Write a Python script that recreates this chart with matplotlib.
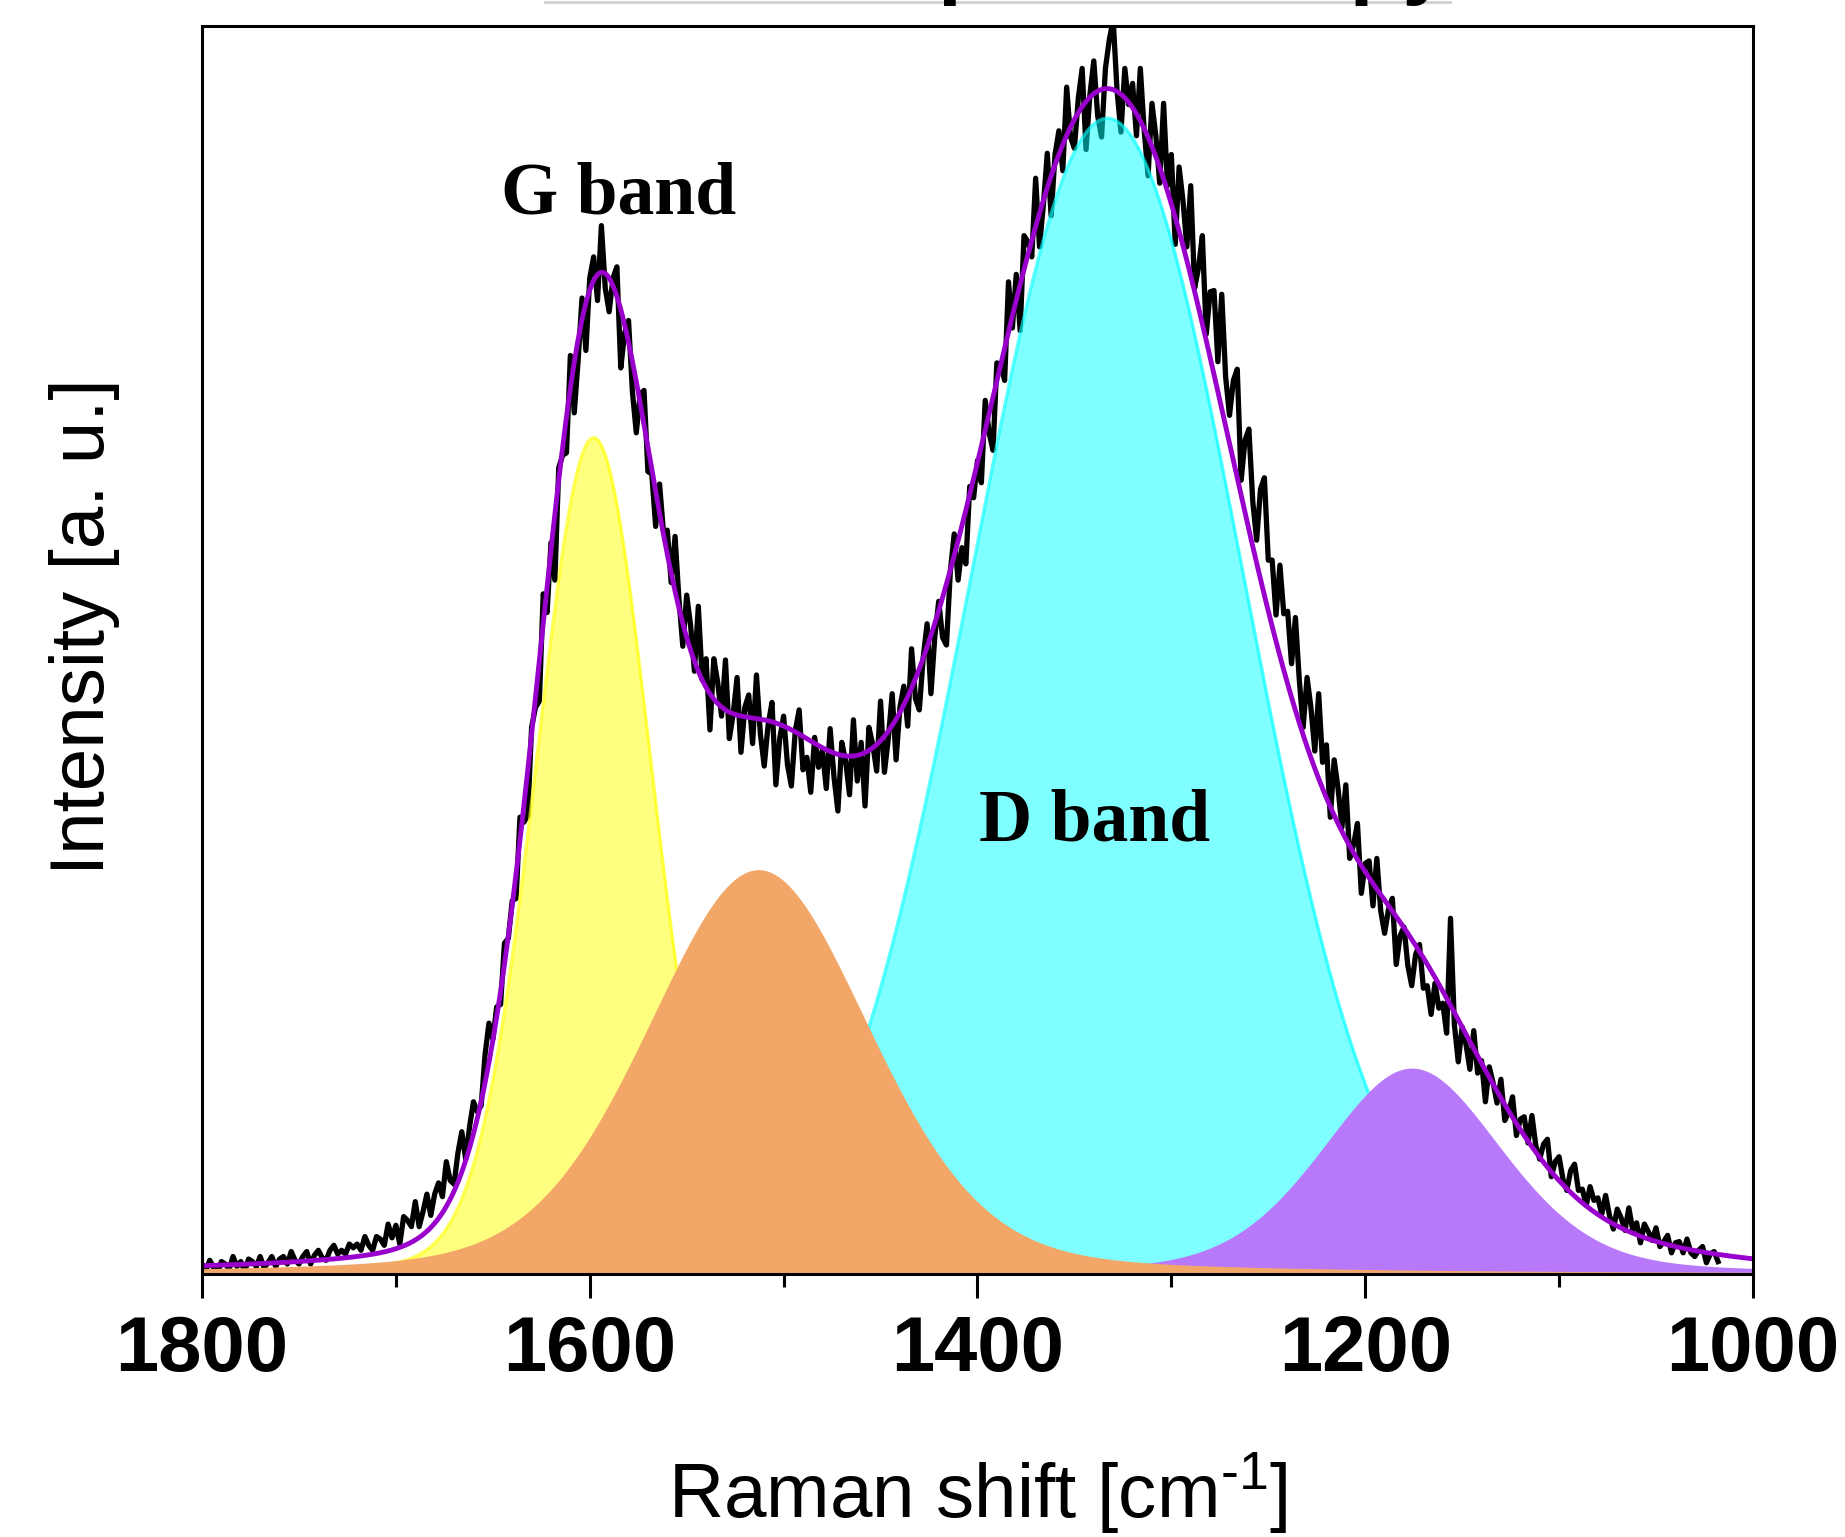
import numpy as np
import matplotlib
matplotlib.use('Agg')
import matplotlib.pyplot as plt
from matplotlib.lines import Line2D

plt.rcParams['font.family'] = ['Liberation Sans', 'DejaVu Sans']
plt.rcParams['mathtext.fontset'] = 'custom'
plt.rcParams['mathtext.rm'] = 'Liberation Sans'
plt.rcParams['mathtext.it'] = 'Liberation Sans:italic'
plt.rcParams['mathtext.bf'] = 'Liberation Sans:bold'

# ---------------- data ----------------
# measured spectrum, 1800 -> 1018 cm-1 every 2 cm-1 (intensity in a.u., axis 0..1000)
raman_shift = np.arange(1800, 1017, -2)
intensity = [
    8, 3, 11, 5, 1,   10, 8, 4, 14, 6,   10, 2, 12, 10, 6,   14, 5, 9, 14, 6,
    12, 14, 8, 18, 11,   8, 14, 18, 8, 15,   19, 13, 11, 19, 23,   16, 19, 16, 24, 21,
    24, 19, 30, 23, 19,   30, 28, 23, 40, 29,   39, 24, 46, 43, 38,   58, 38, 50, 64, 47,
    64, 73, 62, 90, 75,   72, 97, 114, 92, 118,   138, 130, 135, 176, 201,   188, 214, 216, 265, 269,
    299, 301, 366, 362, 367,   438, 454, 459, 545, 530,   586, 556, 646, 656, 658,   736, 690, 732, 782, 740,
    798, 815, 780, 840, 790,   771, 798, 807, 726, 754,   764, 707, 674, 705, 708,   643, 641, 599, 633, 595,
    596, 554, 591, 541, 503,   544, 520, 483, 535, 476,   493, 436, 493, 474, 447,   492, 429, 449, 478, 418,
    454, 464, 425, 480, 433,   407, 440, 458, 392, 429,   447, 408, 391, 435, 452,   404, 414, 386, 430, 406,
    420, 389, 437, 398, 371,   426, 411, 384, 444, 395,   426, 375, 438, 424, 403,   459, 402, 429, 465, 412,
    454, 471, 439, 501, 461,   452, 494, 521, 465, 511,   539, 510, 504, 563, 593,   556, 582, 569, 631, 622,
    652, 634, 700, 674, 660,   730, 729, 716, 795, 758,   801, 756, 832, 827, 815,   878, 823, 857, 898, 848,
    897, 916, 884, 951, 911,   902, 942, 966, 901, 945,   972, 928, 911, 966, 989,   1005, 948, 915, 966, 937,
    954, 912, 966, 916, 880,   938, 912, 874, 938, 872,   897, 825, 887, 860, 823,   872, 790, 806, 832, 753,
    787, 788, 731, 785, 719,   688, 716, 725, 636, 668,   677, 619, 588, 629, 638,   572, 572, 528, 568, 529,
    531, 489, 526, 476, 438,   478, 454, 419, 465, 410,   424, 366, 412, 389, 358,   392, 333, 344, 361, 305,
    329, 331, 295, 333, 291,   273, 292, 301, 248, 271,   278, 247, 231, 256, 264,   229, 231, 208, 233, 213,
    217, 193, 285, 200, 170,   198, 184, 164, 195, 161,   171, 138, 166, 153, 137,   156, 123, 130, 142, 111,
    124, 126, 105, 127, 103,   92, 104, 108, 78, 90,   94, 76, 67, 83, 88,   67, 68, 55, 70, 59,
    61, 48, 63, 47, 36,   52, 45, 35, 53, 35,   41, 25, 40, 34, 27,   37, 22, 26, 31, 17,
    25, 26, 17, 28, 17,   14, 19, 22, 9, 16,   18, 10,
]

# fitted peak components: centre, height, gaussian sigma, lorentz hwhm, lorentz fraction
peak_names = ['G', 'D3', 'D', 'D4']
peak_center = [1598, 1513, 1333, 1176]
peak_height = [670, 324, 926, 165]
peak_sigma = [30, 58, 70, 47]
peak_gamma = [35, 68, 80, 55]
peak_eta = [0.10, 0.25, 0.0, 0.30]

# extra (unfilled) background terms contained in the cumulative fit
bg_center = [1520, 1160]
bg_height = [66, 25]
bg_sigma = [40, 95]

xticks_major = [1800, 1600, 1400, 1200, 1000]
xticks_minor = [1700, 1500, 1300, 1100]


def pseudo_voigt(x, c, h, s, g, eta):
    return h * ((1 - eta) * np.exp(-(x - c) ** 2 / (2 * s ** 2))
                + eta * g ** 2 / (g ** 2 + (x - c) ** 2))


xg = np.linspace(1800, 1000, 1601)
comps = [pseudo_voigt(xg, c, h, s, g, e) for c, h, s, g, e in
         zip(peak_center, peak_height, peak_sigma, peak_gamma, peak_eta)]
bgs = [pseudo_voigt(xg, c, h, s, 1, 0.0) for c, h, s in zip(bg_center, bg_height, bg_sigma)]
fit = np.sum(comps, axis=0) + np.sum(bgs, axis=0)

# ---------------- figure ----------------
fig = plt.figure(figsize=(18.45, 15.37), dpi=100)
ax = fig.add_axes([0.1095, 0.1711, 0.8406, 0.8120])

ax.plot(raman_shift, intensity, color='black', lw=3.8, zorder=2)

# G (yellow, translucent)
ax.fill_between(xg, 0, comps[0], color='#FFFF00', alpha=0.5, lw=0, zorder=3)
ax.plot(xg, comps[0], color='#FFFF00', alpha=0.65, lw=2.4, zorder=3)
# D (cyan, translucent)
ax.fill_between(xg, 0, comps[2], color='#00FFFF', alpha=0.5, lw=0, zorder=3)
ax.plot(xg, comps[2], color='#00FFFF', alpha=0.65, lw=2.4, zorder=3)
# D4 (purple)
ax.fill_between(xg, 0, comps[3], color='#B878FA', lw=0, zorder=4)
# D3 (orange)
ax.fill_between(xg, 0, comps[1], color='#F2A768', lw=0, zorder=5)

ax.plot(xg, fit, color='#9900CC', lw=3.5, zorder=6)

ax.set_xlim(1800, 1000)
ax.set_ylim(0, 1000)

for sp in ax.spines.values():
    sp.set_linewidth(2.2)
    sp.set_zorder(10)

ax.set_xticks(xticks_major)
ax.set_xticks(xticks_minor, minor=True)
ax.tick_params(axis='x', which='major', direction='out', length=17, width=2.2,
               labelsize=56, pad=12)
ax.tick_params(axis='x', which='minor', direction='out', length=9, width=2.2)
ax.tick_params(axis='y', which='both', left=False, labelleft=False)
for lab in ax.get_xticklabels():
    lab.set_fontweight('bold')

ax.set_xlabel(r'Raman shift [cm$^{\text{-1}}$]', fontsize=55)
ax.xaxis.label.set_va('baseline')
ax.xaxis.set_label_coords(0.5, -0.1955)
ax.set_ylabel('Intensity [a. u.]', fontsize=55)
ax.yaxis.label.set_va('baseline')
ax.yaxis.set_label_coords(-0.0632, 0.519)

ax.text(1646, 850, 'G band', family=['Liberation Serif'], fontweight='bold',
        fontsize=53, ha='left', va='baseline', zorder=8)
ax.text(1399, 347, 'D band', family=['Liberation Serif'], fontweight='bold',
        fontsize=53, ha='left', va='baseline', zorder=8)

# clipped title above the frame
fig.text(0.550, 1 + 12 / 1537, 'Raman spectroscopy', ha='center', va='baseline',
         fontsize=62, fontweight='bold')
fig.add_artist(Line2D([545 / 1845, 1450 / 1845], [1 - 1.5 / 1537] * 2,
                      color='#D0D0D0', lw=2, transform=fig.transFigure))

fig.savefig('out.png', dpi=100)
